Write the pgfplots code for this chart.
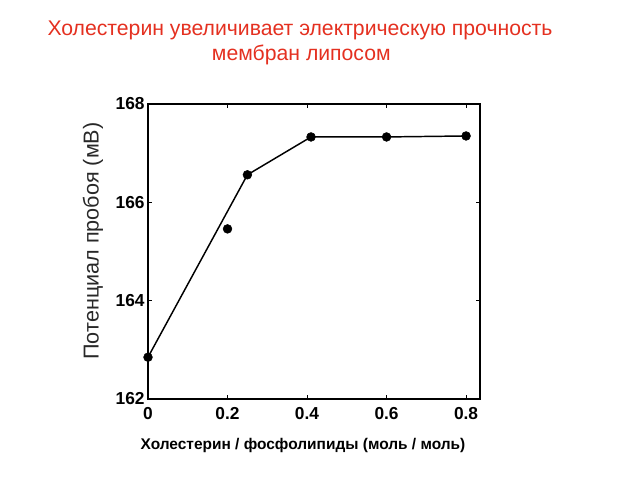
\documentclass[border=0pt]{standalone}
\usepackage{fontspec}
\setmainfont{Liberation Sans}
\usepackage{pgfplots}
\pgfplotsset{compat=1.18}
\definecolor{titlered}{RGB}{228,48,32}
\definecolor{labgray}{RGB}{40,40,40}
\begin{document}
\begin{tikzpicture}
\path[use as bounding box] (0,0) rectangle (480pt,360pt);
\begin{axis}[at={(111pt,60.75pt)}, anchor=south west, scale only axis,
  width=249pt, height=221.25pt,
  xmin=0, xmax=0.835, ymin=162, ymax=168,
  axis line style={line width=1.4pt},
  xtick={0,0.2,0.4,0.6,0.8}, xticklabels={0,0.2,0.4,0.6,0.8},
  ytick={162,164,166,168}, yticklabels={162,164,166,168},
  tick style={black, line width=0.8pt}, major tick length=3pt,
  tick label style={font=\bfseries\fontsize{13}{13}\selectfont},
  yticklabel style={xshift=1pt},
  xticklabel style={yshift=-3pt},
  clip=false]
\addplot[black, line width=1.1pt] coordinates {(0,162.85) (0.25,166.56) (0.41,167.33) (0.6,167.33) (0.8,167.35)};
\addplot[only marks, mark=*, mark size=3.3pt, black] coordinates {(0,162.85) (0.2,165.46) (0.25,166.56) (0.41,167.33) (0.6,167.33) (0.8,167.35)};
\end{axis}
\node[titlered, font=\fontsize{15.9}{15.9}\selectfont] at (225pt,337.5pt) {Холестерин увеличивает электрическую прочность};
\node[titlered, font=\fontsize{15.9}{15.9}\selectfont] at (226pt,318.75pt) {мембран липосом};
\node[labgray, rotate=90, font=\fontsize{16.2}{16.2}\selectfont] at (69.75pt,179.25pt) {Потенциал пробоя (мВ)};
\node[black, font=\bfseries\fontsize{11.6}{11.6}\selectfont] at (227.25pt,26.25pt) {Холестерин / фосфолипиды (моль / моль)};
\end{tikzpicture}
\end{document}
